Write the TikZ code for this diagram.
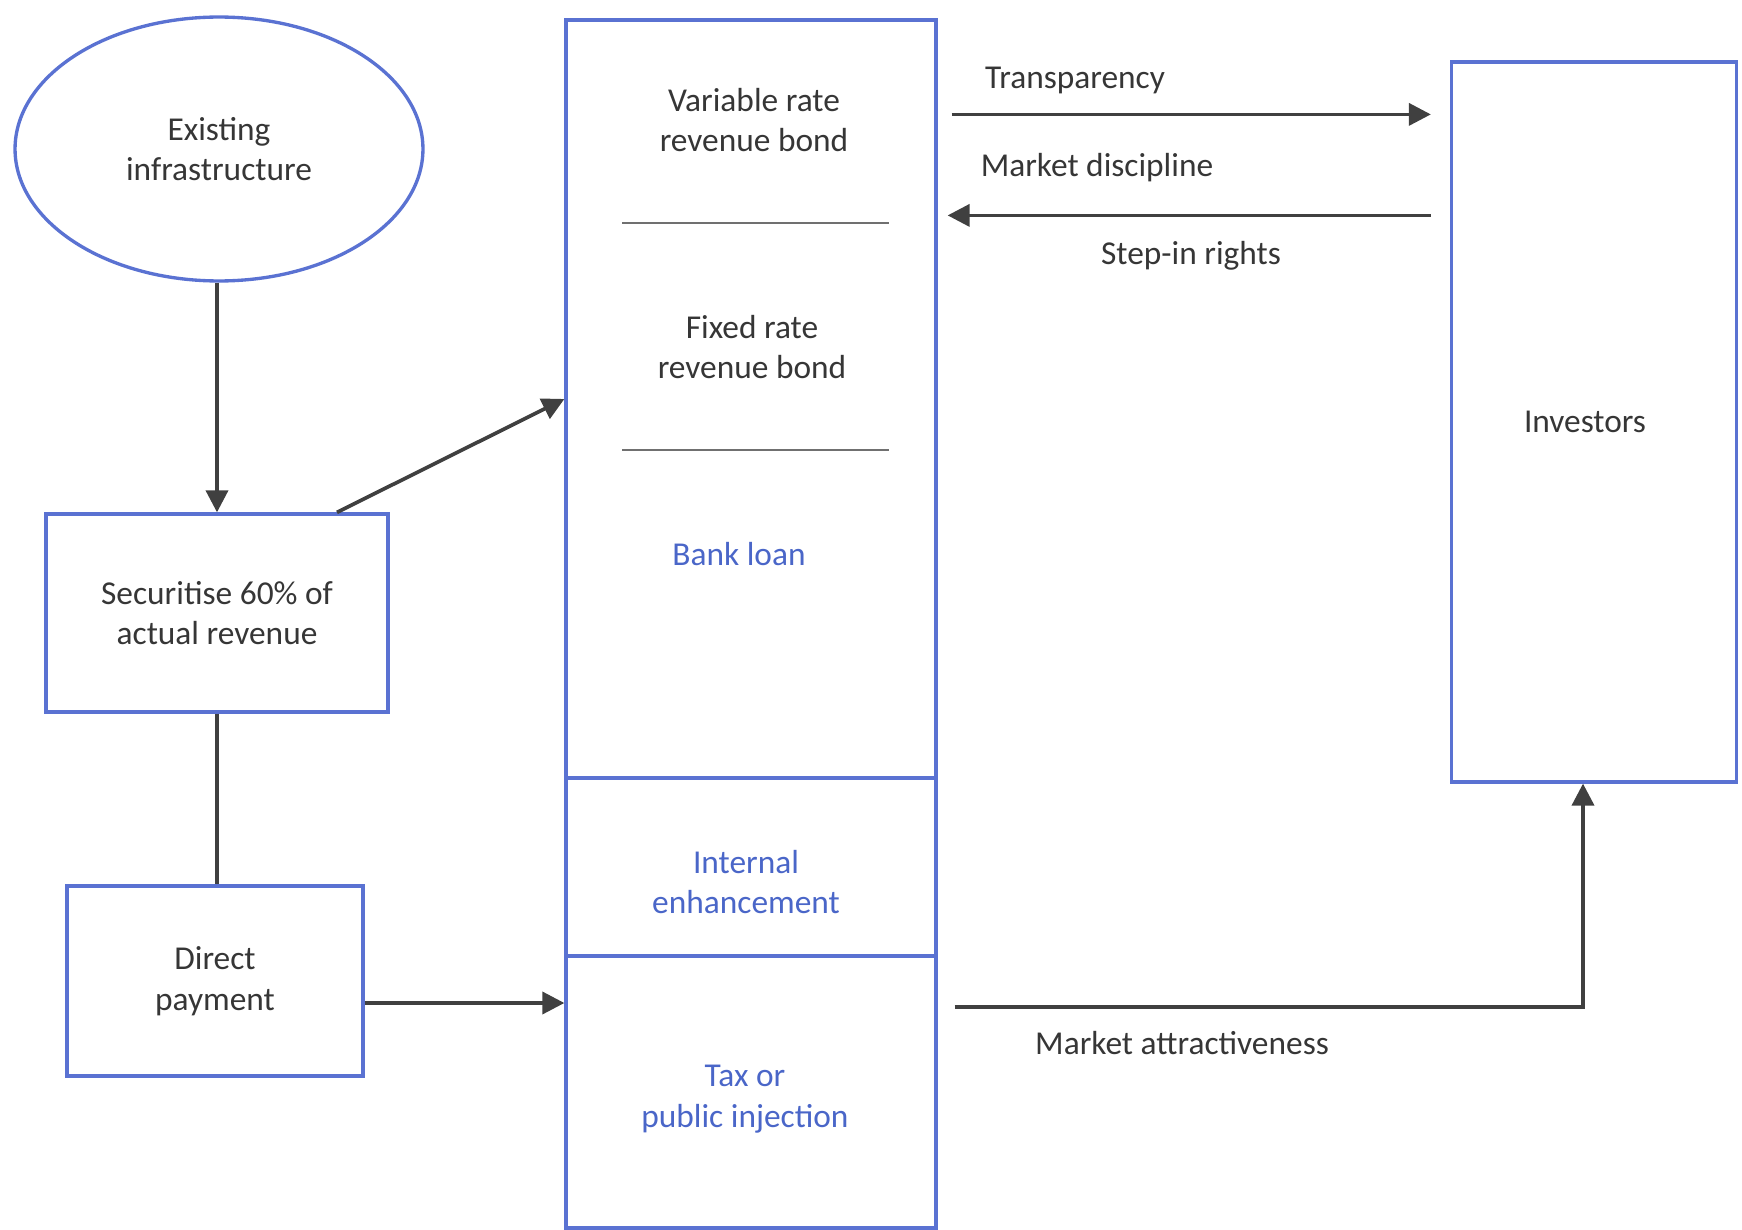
\documentclass[tikz,border=0pt]{standalone}
\usepackage{fontspec}
\setmainfont{Carlito}
\usepackage{xcolor}
\usetikzlibrary{calc,shapes.geometric,arrows.meta}
\definecolor{boxline}{HTML}{5A72D2}
\definecolor{bluetext}{HTML}{4A66C8}
\definecolor{inktext}{HTML}{363636}
\definecolor{arrowink}{HTML}{404040}
\definecolor{rulegray}{HTML}{707070}

\begin{document}
\begin{tikzpicture}[x=0.02cm,y=-0.02cm,>={Triangle[length=0.44cm,width=0.44cm]},
  font=\fontsize{19}{23}\selectfont,
  blk/.style={draw=boxline,line width=1.9pt,rectangle,inner sep=0pt,text=inktext,align=center},
  flow/.style={draw=arrowink,line width=2.1pt},
  lbl/.style={text=inktext,inner sep=0pt,align=center}]
  \useasboundingbox (0,0) rectangle (1742,1230);
  % left chain
  \node[blk,ellipse,minimum width=8.16cm,minimum height=5.28cm] (infra) at (219,149) {Existing\\infrastructure};
  \node[blk,minimum width=6.84cm,minimum height=3.96cm] (sec) at (217,613) {Securitise 60\% of\\actual revenue};
  \node[blk,minimum width=5.92cm,minimum height=3.8cm] (dp) at (215,981) {Direct\\payment};
  % funding column
  \node[blk,minimum width=7.4cm,minimum height=15.16cm] (bonds) at (751,399) {};
  \node[blk,minimum width=7.4cm,minimum height=3.56cm] (enh) at (751,867) {};
  \node[blk,minimum width=7.4cm,minimum height=5.44cm] (tax) at (751,1092) {};
  \node[lbl] (vrb) at (754,120) {Variable rate\\revenue bond};
  \node[lbl] (frb) at (752,347) {Fixed rate\\revenue bond};
  \node[lbl,text=bluetext] (loan) at (739,554) {Bank loan};
  \node[lbl,text=bluetext] (enht) at (746,882) {Internal\\enhancement};
  \node[lbl,text=bluetext] (taxt) at (745,1099) {Tax or\\public injection};
  \draw[rulegray,line width=1.5pt] (622,223) -- (889,223);
  \draw[rulegray,line width=1.5pt] (622,450) -- (889,450);
  % investors
  \node[blk,minimum width=5.7cm,minimum height=14.4cm,label={[lbl,xshift=-0.18cm]center:Investors}] (inv) at (1594,422) {};
  % connectors
  \draw[flow,->] (infra.south -| sec.north) -- (sec.north);
  \draw[flow,->] ($(sec.north)+(120,0)$) -- (bonds.west);
  \draw[flow] (sec.south) -- (sec.south |- dp.north);
  \coordinate (dpout) at ($(dp.east)+(0,22)$);
  \draw[flow,->] (dpout) -- (dpout -| tax.west);
  \coordinate (tr) at ($(bonds.north east)+(14,96)$);
  \draw[flow,->,shorten >=0.38cm] (tr) -- (tr -| inv.west);
  \coordinate (md) at ($(inv.north west)+(-19,155)$);
  \draw[flow,->,shorten >=0.2cm] (md) -- (md -| bonds.east);
  \coordinate (ma) at ($(tax.east)+(17,-85)$);
  \draw[flow,->] (ma) -| ($(inv.south)+(-11,0)$);
  % labels
  \node[lbl] (trl) at (1075,80) {Transparency};
  \node[lbl] (mdl) at (1097,168) {Market discipline};
  \node[lbl] (sil) at (1191,256) {Step-in rights};
  \node[lbl] (mal) at (1182,1043) {Market attractiveness};
\end{tikzpicture}
\end{document}
